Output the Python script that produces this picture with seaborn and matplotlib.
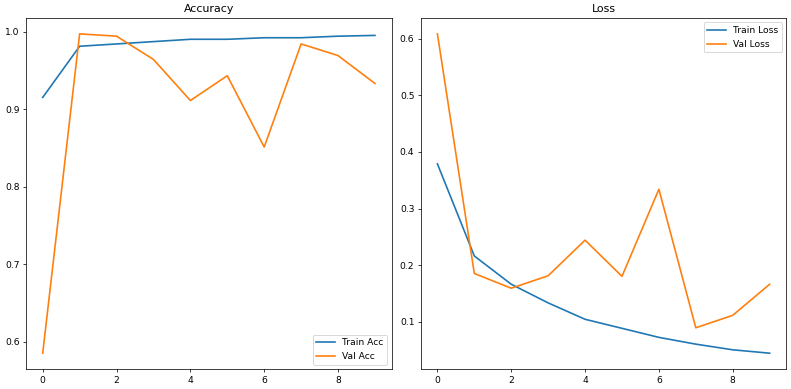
import matplotlib
matplotlib.use("Agg")
import matplotlib.pyplot as plt
import seaborn as sns

epochs = list(range(10))
train_acc = [0.915, 0.981, 0.984, 0.987, 0.990, 0.990, 0.992, 0.992, 0.994, 0.995]
val_acc = [0.585, 0.997, 0.994, 0.964, 0.911, 0.943, 0.851, 0.984, 0.969, 0.933]
train_loss = [0.379, 0.216, 0.166, 0.133, 0.104, 0.088, 0.072, 0.060, 0.050, 0.044]
val_loss = [0.609, 0.185, 0.159, 0.181, 0.244, 0.180, 0.334, 0.089, 0.111, 0.166]

plt.rcParams['font.family'] = ['DejaVu Sans']

# original looks like a 12x6-ish figure saved at low dpi
dpi = 66
fig, axes = plt.subplots(1, 2, figsize=(791 / dpi, 389 / dpi), dpi=dpi)
fig.subplots_adjust(left=0.033, right=0.994, top=0.954, bottom=0.051, wspace=0.08)

c_train, c_val = sns.color_palette("tab10")[:2]
lw = 1.8

ax = axes[0]
sns.lineplot(x=epochs, y=train_acc, ax=ax, color=c_train, label="Train Acc", linewidth=lw)
sns.lineplot(x=epochs, y=val_acc, ax=ax, color=c_val, label="Val Acc", linewidth=lw)
ax.set_title("Accuracy")
ax.legend(loc="lower right")

ax = axes[1]
sns.lineplot(x=epochs, y=train_loss, ax=ax, color=c_train, label="Train Loss", linewidth=lw)
sns.lineplot(x=epochs, y=val_loss, ax=ax, color=c_val, label="Val Loss", linewidth=lw)
ax.set_title("Loss")
ax.legend(loc="upper right")

for ax in axes:
    ax.set_xticks([0, 2, 4, 6, 8])

fig.savefig("out.png", dpi=dpi)
plt.close(fig)
